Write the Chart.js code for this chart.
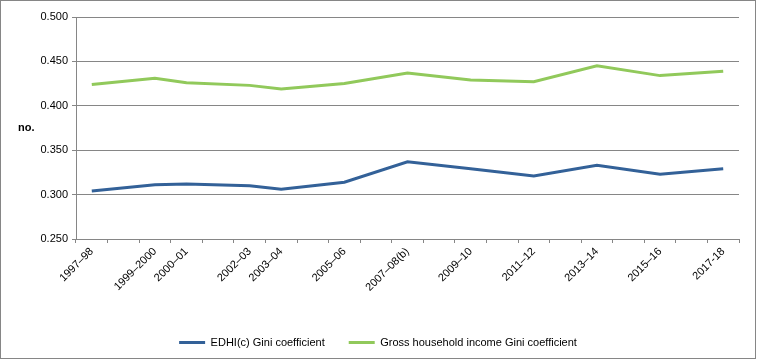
<!DOCTYPE html>
<html lang="en">
<head>
    <meta charset="UTF-8">
    <title>Gini coefficients</title>
    <script src="https://cdn.jsdelivr.net/npm/chart.js"></script>
    <style>
        body { margin: 0; background: #fff; font-family: "Liberation Sans", Arial, sans-serif; }
        .frame { width: 756px; height: 359px; box-sizing: border-box; border: 1px solid #868686; }
        canvas { display: block; }
    </style>
</head>
<body>
    <div class="frame">
        <canvas id="giniChart" width="754" height="357"></canvas>
    </div>

    <script>
        // Survey years (missing years kept as empty slots so spacing matches)
        const years = ['1997–98', '1998–99', '1999–2000', '2000–01', '2001–02', '2002–03', '2003–04', '2004–05',
            '2005–06', '2006–07', '2007–08(b)', '2008–09', '2009–10', '2010–11', '2011–12', '2012–13',
            '2013–14', '2014–15', '2015–16', '2016–17', '2017-18'];
        const shownLabels = ['1997–98', '1999–2000', '2000–01', '2002–03', '2003–04', '2005–06',
            '2007–08(b)', '2009–10', '2011–12', '2013–14', '2015–16', '2017-18'];

        const edhiGini = [0.304, null, 0.311, 0.312, null, 0.310, 0.306, null, 0.314, null, 0.337, null,
            0.329, null, 0.321, null, 0.333, null, 0.323, null, 0.329];
        const grossGini = [0.424, null, 0.431, 0.426, null, 0.423, 0.419, null, 0.425, null, 0.437, null,
            0.429, null, 0.427, null, 0.445, null, 0.434, null, 0.439];

        const yTicks = { min: 0.25, max: 0.5, step: 0.05 };

        const gridGray = '#868686';
        const font = { family: "'Liberation Sans', Arial, sans-serif", size: 11 };

        // horizontal "no." axis label
        const unitLabel = {
            id: 'unitLabel',
            afterDraw(chart) {
                const c = chart.ctx;
                const area = chart.chartArea;
                c.save();
                c.font = "bold 11px 'Liberation Sans', Arial, sans-serif";
                c.fillStyle = '#000';
                c.textBaseline = 'middle';
                c.fillText('no.', 17, (area.top + area.bottom) / 2);
                c.restore();
            }
        };

        new Chart(document.getElementById('giniChart'), {
            type: 'line',
            data: {
                labels: years,
                datasets: [{
                    label: 'EDHI(c) Gini coefficient',
                    data: edhiGini,
                    borderColor: '#336198',
                    backgroundColor: '#336198',
                    borderWidth: 3,
                    pointRadius: 0,
                    spanGaps: true,
                    tension: 0
                }, {
                    label: 'Gross household income Gini coefficient',
                    data: grossGini,
                    borderColor: '#91c95b',
                    backgroundColor: '#91c95b',
                    borderWidth: 3,
                    pointRadius: 0,
                    spanGaps: true,
                    tension: 0
                }]
            },
            options: {
                responsive: false,
                animation: false,
                layout: { padding: { top: 16, right: 16, left: 16, bottom: 0 } },
                plugins: {
                    tooltip: { enabled: false },
                    legend: {
                        position: 'bottom',
                        maxHeight: 49,
                        labels: {
                            color: '#000',
                            font: font,
                            boxWidth: 26,
                            boxHeight: 3,
                            padding: 24,
                            generateLabels(chart) {
                                return Chart.defaults.plugins.legend.labels.generateLabels(chart).map(item => {
                                    item.lineWidth = 0;
                                    item.fillStyle = item.strokeStyle;
                                    return item;
                                });
                            }
                        }
                    }
                },
                scales: {
                    x: {
                        offset: true,
                        afterFit(scale) { scale.height = 74; },
                        grid: {
                            offset: true,
                            drawOnChartArea: false,
                            color: gridGray,
                            tickLength: 4
                        },
                        border: { color: gridGray },
                        ticks: {
                            autoSkip: false,
                            minRotation: 45,
                            maxRotation: 45,
                            padding: 2,
                            color: '#000',
                            font: font,
                            callback(value) {
                                const name = years[value];
                                return shownLabels.includes(name) ? name : '';
                            }
                        }
                    },
                    y: {
                        min: yTicks.min,
                        max: yTicks.max,
                        afterFit(scale) { scale.width = 59; },
                        grid: { color: gridGray, tickLength: 4 },
                        border: { color: gridGray },
                        ticks: {
                            stepSize: yTicks.step,
                            padding: 4,
                            color: '#000',
                            font: font,
                            callback: v => v.toFixed(3)
                        }
                    }
                }
            },
            plugins: [unitLabel]
        });
    </script>
</body>
</html>
